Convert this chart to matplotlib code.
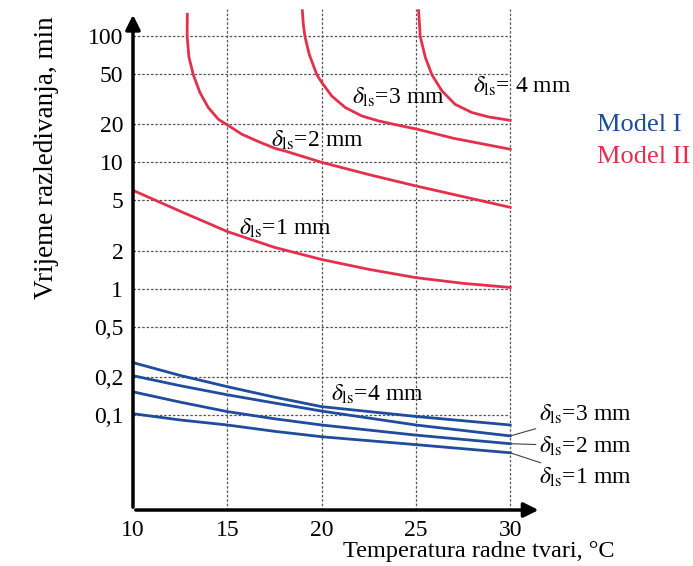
import matplotlib
matplotlib.use('Agg')
import matplotlib.pyplot as plt
import numpy as np

plt.rcParams['font.family'] = ['Liberation Serif', 'DejaVu Serif']
plt.rcParams['mathtext.fontset'] = 'stix'

# Model I (plavo)
t_blue = [10, 12.5, 15, 17.5, 20, 25, 30]
blue_4 = [0.259, 0.205, 0.167, 0.138, 0.116, 0.097, 0.083]
blue_3 = [0.204, 0.170, 0.144, 0.124, 0.107, 0.083, 0.068]
blue_2 = [0.152, 0.126, 0.106, 0.093, 0.083, 0.069, 0.059]
blue_1 = [0.102, 0.091, 0.083, 0.074, 0.067, 0.058, 0.050]

# Model II (crveno)
t_red1 = [10, 12.5, 15, 17.5, 20, 22.5, 25, 27.5, 30]
red_1 = [6.0, 4.1, 2.83, 2.12, 1.70, 1.42, 1.22, 1.10, 1.02]
t_red2 = [12.88, 12.87, 12.97, 13.20, 13.55, 13.99, 14.53, 15.0, 15.77, 16.65,
          17.53, 18.06, 20, 22.5, 25, 27.5, 30]
red_2 = [149, 99, 67.8, 49.3, 35.7, 27.2, 21.9, 19.8, 16.7, 14.6,
         12.9, 12.3, 10, 8.0, 6.5, 5.35, 4.4]
t_red3 = [18.98, 19.03, 19.12, 19.34, 19.75, 20.01, 20.54, 21.25, 22.13, 23.01,
          24.25, 25.07, 27.0, 30]
red_3 = [159, 124, 99, 71.9, 49.3, 42.9, 33.5, 27.2, 23.3, 21.3,
         19.4, 18.3, 15.5, 12.7]
t_red4 = [25.14, 25.23, 25.50, 25.85, 26.38, 27.08, 27.97, 28.85, 30]
red_4 = [159, 99, 67.8, 49.3, 36.8, 28.8, 24.8, 22.9, 21.5]

yticks = [0.1, 0.2, 0.5, 1, 2, 5, 10, 20, 50, 100]
ytick_labels = ['0,1', '0,2', '0,5', '1', '2', '5', '10', '20', '50', '100']
xticks = [10, 15, 20, 25, 30]

blue = '#1f4c9c'
red = '#e4304c'

fig = plt.figure(figsize=(6.93, 5.66), dpi=100)
ax = fig.add_axes([0.1919, 0.0989, 0.5988, 0.8887])
ax.set_yscale('log')
ax.set_xlim(10, 32.0)
ax.set_ylim(0.0176, 170)

for s in ax.spines.values():
    s.set_visible(False)
ax.minorticks_off()
ax.set_yticks(yticks)
ax.set_yticklabels(ytick_labels)
ax.set_xticks(xticks)
ax.tick_params(length=0, labelsize=17, pad=7)

# mreza
ax.hlines(yticks, 10, 30, colors='#555555', linestyles=(0, (2, 1.5)), lw=0.9)
ax.vlines(xticks[1:], 0.0176, 164, colors='#555555', linestyles=(0, (2, 1.5)), lw=0.9)

# osi sa strelicama
ax.annotate('', xy=(0.984, 0), xytext=(0, 0), xycoords='axes fraction',
            arrowprops=dict(arrowstyle='-|>', color='k', lw=2.5, mutation_scale=22))
ax.annotate('', xy=(0, 0.99), xytext=(0, 0), xycoords='axes fraction',
            arrowprops=dict(arrowstyle='-|>', color='k', lw=2.5, mutation_scale=22))

for y in [blue_4, blue_3, blue_2, blue_1]:
    ax.plot(t_blue, y, color=blue, lw=2)
for t, y in [(t_red1, red_1), (t_red2, red_2), (t_red3, red_3), (t_red4, red_4)]:
    ax.plot(t, y, color=red, lw=2)

fs = 17
d = r'$\delta_{\mathrm{ls}}$'
ax.text(15.6, 3.0, d + '=1 mm', fontsize=fs, va='center')
ax.text(17.3, 15.0, d + '=2 mm', fontsize=fs, va='center')
ax.text(21.6, 33.0, d + '=3 mm', fontsize=fs, va='center')
ax.text(28.0, 40.0, d + '= 4 mm', fontsize=fs, va='center')
ax.text(20.5, 0.145, d + '=4 mm', fontsize=fs, va='center')

lk = dict(arrowstyle='-', color='#444444', lw=0.8, shrinkA=0, shrinkB=0)
ax.annotate(d + '=3 mm', xy=(t_blue[-1], blue_3[-1]), xytext=(31.5, 0.100),
            fontsize=fs, va='center', arrowprops=lk)
ax.annotate(d + '=2 mm', xy=(t_blue[-1], blue_2[-1]), xytext=(31.5, 0.0565),
            fontsize=fs, va='center', arrowprops=lk)
ax.annotate(d + '=1 mm', xy=(t_blue[-1], blue_1[-1]), xytext=(31.5, 0.032),
            fontsize=fs, va='center', arrowprops=lk)

fig.text(597 / 693, 1 - 125 / 566, 'Model I', color=blue, fontsize=19, va='center')
fig.text(597 / 693, 1 - 157 / 566, 'Model II', color=red, fontsize=19, va='center')

fig.text(47 / 693, 1 - 158 / 566, 'Vrijeme razledivanja, min', rotation=90,
         fontsize=19.5, ha='center', va='center')
fig.text(479 / 693, 1 - 551 / 566, 'Temperatura radne tvari, \u00b0C',
         fontsize=17.5, ha='center', va='center')

fig.savefig('out.png', dpi=100)
